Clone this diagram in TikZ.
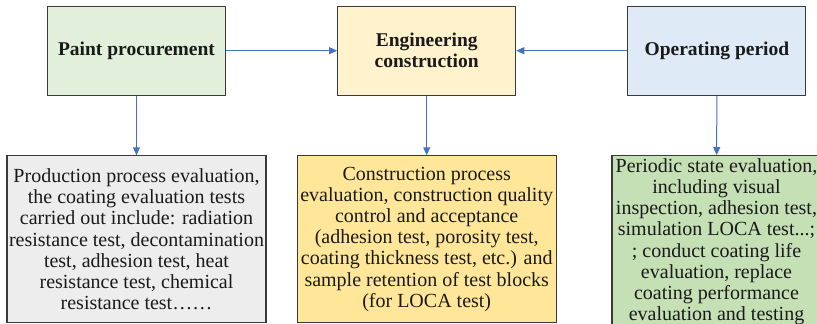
\documentclass[tikz,border=0pt]{standalone}
\usepackage{fontspec}
\setmainfont{Liberation Serif}
\usetikzlibrary{arrows.meta}
\definecolor{pgreen}{HTML}{E2EFDA}
\definecolor{pyellow}{HTML}{FFF2CC}
\definecolor{pblue}{HTML}{DEEBF7}
\definecolor{bgray}{HTML}{EDEDED}
\definecolor{byellow}{HTML}{FFE699}
\definecolor{bgreen}{HTML}{C5E0B4}
\definecolor{arrowblue}{HTML}{4472C4}
\definecolor{edgecol}{HTML}{3A3A3A}
\definecolor{txt}{HTML}{1A1A1A}
\begin{document}
\begin{tikzpicture}[x=1pt,y=-1pt,
  topbox/.style={draw=edgecol, line width=1.1pt, minimum width=178pt, minimum height=89pt,
    inner sep=0pt, align=center, text=txt, font=\fontsize{19.5}{21}\selectfont\bfseries},
  botbox/.style={draw=edgecol, line width=1.1pt, minimum width=259pt, minimum height=167pt,
    inner sep=0pt, align=center, text=txt, font=\fontsize{20}{21.2}\selectfont},
  conn/.style={draw=arrowblue, line width=1pt, -{Triangle[length=8pt,width=7pt]}}]
\clip (0,0) rectangle (817,324);
\useasboundingbox (0,0) rectangle (817,324);
\node[topbox, fill=pgreen] (paint) at (136.5,50.7) {Paint procurement};
\node[topbox, fill=pyellow] (eng) at (426.7,50.7) {Engineering\\construction};
\node[topbox, fill=pblue] (oper) at (716.9,50.7) {Operating period};
\node[botbox, fill=bgray] (gray) at (136.5,239.3) {Production process evaluation,\\
the coating evaluation tests\\
carried out include: radiation\\
resistance test, decontamination\\
test, adhesion test, heat\\
resistance test, chemical\\
resistance test……};
\node[botbox, fill=byellow] (yel) at (426.7,239.3) {Construction process\\
evaluation, construction quality\\
control and acceptance\\
(adhesion test, porosity test,\\
coating thickness test, etc.) and\\
sample retention of test blocks\\
(for LOCA test)};
\node[botbox, fill=bgreen, minimum width=209pt, minimum height=172pt] (grn) at (716.5,241.7) {Periodic state evaluation,\\
including visual\\
inspection, adhesion test,\\
simulation LOCA test...;\\
; conduct coating life\\
evaluation, replace\\
coating performance\\
evaluation and testing};
\draw[conn] (paint) -- (eng);
\draw[conn] (oper) -- (eng);
\draw[conn] (paint) -- (gray);
\draw[conn] (eng) -- (yel);
\draw[conn] (oper) -- (grn);
\end{tikzpicture}
\end{document}
